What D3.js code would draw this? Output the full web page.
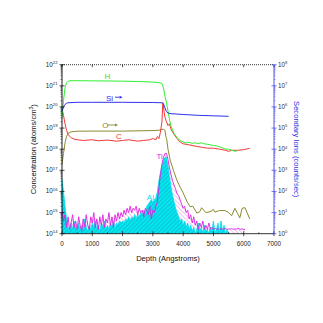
<!DOCTYPE html>
<html>
<head>
<meta charset="utf-8">
<script src="https://cdn.jsdelivr.net/npm/d3@7/dist/d3.min.js"></script>
<style>
  html, body { margin: 0; padding: 0; background: #fff; }
  svg { display: block; font-family: "Liberation Sans", Arial, sans-serif; }
</style>
</head>
<body>
<svg id="chart" width="323" height="323"></svg>
<script>
// ---- SIMS depth profile data ----
// Concentrations in atoms/cm^3 (left axis); Si in counts/sec (right axis)
const hDepth = [0, 50, 100, 150, 200, 300, 500, 1000, 1500, 2000, 2500, 3000, 3200, 3300, 3350, 3400, 3450, 3500, 3550, 3600, 3700, 3800, 3900, 4000, 4100, 4200, 4300, 4400, 4500, 4600, 4700, 4800, 4900, 5000, 5100, 5200, 5300, 5400, 5500, 5600, 5700, 5800];
const hConc  = [3.2e19, 2.0e20, 8.0e20, 1.4e21, 1.65e21, 1.75e21, 1.75e21, 1.72e21, 1.7e21, 1.66e21, 1.6e21, 1.5e21, 1.42e21, 1.3e21, 8.0e20, 3.2e20, 1.6e20, 6.3e19, 2.5e19, 1.2e19, 5.6e18, 3.5e18, 2.6e18, 2.2e18, 2.0e18, 2.1e18, 1.9e18, 2.0e18, 1.85e18, 2.0e18, 1.8e18, 1.7e18, 1.6e18, 1.5e18, 1.45e18, 1.3e18, 1.15e18, 1.0e18, 1.0e18, 9.0e17, 8.0e17, 8.5e17];

const cDepth = [0, 50, 100, 150, 200, 300, 400, 500, 700, 1000, 1200, 1500, 1800, 2000, 2200, 2500, 2700, 2900, 3000, 3100, 3150, 3200, 3250, 3300, 3330, 3360, 3400, 3450, 3500, 3550, 3600, 3700, 3800, 3900, 4000, 4200, 4400, 4600, 4800, 5000, 5200, 5400, 5500, 5600, 5800, 6000, 6200];
const cConc  = [8.0e19, 4.0e19, 1.6e19, 7.9e18, 5.0e18, 3.5e18, 3.0e18, 2.8e18, 2.6e18, 2.8e18, 2.5e18, 2.7e18, 2.4e18, 2.6e18, 2.8e18, 2.4e18, 2.6e18, 2.8e18, 3.2e18, 2.8e18, 4.0e18, 3.2e18, 6.3e18, 2.0e19, 1.6e20, 7.9e19, 3.2e19, 2.0e19, 1.3e19, 1.6e19, 8.9e18, 5.0e18, 3.2e18, 2.2e18, 1.8e18, 1.6e18, 1.4e18, 1.25e18, 1.12e18, 1.12e18, 1.0e18, 8.9e17, 7.9e17, 8.9e17, 8.9e17, 9.5e17, 1.1e18];

const oDepth = [0, 50, 100, 150, 200, 300, 500, 1000, 2000, 3000, 3200, 3350, 3400, 3430, 3460, 3500, 3570, 3680, 3790, 3900, 4000, 4120, 4230, 4320, 4450, 4550, 4610, 4750, 4890, 5000, 5050, 5200, 5380, 5500, 5600, 5710, 5800, 5870, 5950, 6040, 6200];
const oConc  = [2.0e17, 6.3e17, 2.0e18, 4.0e18, 5.6e18, 6.6e18, 7.1e18, 7.2e18, 7.2e18, 7.6e18, 7.9e18, 8.9e18, 7.9e18, 4.0e18, 2.8e18, 1.0e18, 3.1e17, 1.0e17, 3.5e16, 1.6e16, 8.5e15, 3.5e15, 1.9e15, 2.0e15, 9.5e14, 1.1e15, 1.7e15, 1.0e15, 1.1e15, 1.4e15, 1.05e15, 1.25e15, 1.25e15, 1.0e15, 7.1e14, 1.6e15, 8.9e14, 5.6e14, 1.6e15, 1.7e15, 5.0e14];

const siDepth = [0, 50, 100, 150, 200, 500, 1000, 2000, 3000, 3300, 3350, 3400, 3450, 3500, 3600, 3800, 4000, 4500, 5000, 5500];
const siCounts = [6.3e5, 1.0e6, 1.32e6, 1.5e6, 1.58e6, 1.66e6, 1.66e6, 1.66e6, 1.62e6, 1.58e6, 1.41e6, 8.9e5, 6.0e5, 5.2e5, 4.8e5, 4.6e5, 4.4e5, 4.0e5, 3.8e5, 3.6e5];

// Ti and Al are sampled every 50 Angstroms starting at the surface
const sampleStep = 50;
const tiConc = [
  1.3e15, 4.0e14, 7.9e14, 2.0e14, 6.3e14, 1.6e14, 3.2e14, 7.9e14, 2.0e14, 4.0e14,
  1.6e14, 6.3e14, 2.5e14, 1.3e14, 5.0e14, 2.0e14, 7.9e14, 2.5e14, 1.6e14, 6.3e14,
  3.2e14, 1.0e15, 2.0e14, 5.0e14, 1.6e14, 6.3e14, 2.5e14, 7.9e14, 2.0e14, 5.0e14,
  3.2e14, 1.0e15, 2.5e14, 6.3e14, 2.0e14, 7.9e14, 4.0e14, 1.0e15, 5.0e14, 1.0e15,
  6.3e14, 1.3e15, 7.9e14, 1.6e15, 1.0e15, 2.0e15, 1.0e15, 1.6e15, 1.3e15, 2.0e15,
  7.9e14, 1.6e15, 1.0e15, 1.3e15, 6.3e14, 1.6e15, 1.3e15, 7.9e14, 2.0e15, 5.0e14,
  1.3e15, 1.0e15, 2.0e15, 3.2e15, 1.6e16, 6.3e16, 2.0e17, 4.0e17, 6.3e17, 6.3e17,
  3.2e17, 1.3e17, 6.3e16, 3.2e16, 2.0e16, 1.3e16, 7.9e15, 6.3e15, 4.0e15, 2.5e15,
  1.6e15, 2.0e15, 1.0e15, 1.3e15, 5.0e14, 7.9e14, 3.2e14, 6.3e14, 2.5e14, 4.0e14,
  1.6e14, 3.2e14, 2.0e14, 4.0e14, 1.6e14, 2.5e14, 1.6e14, 3.2e14, 1.6e14, 2.0e14,
  1.6e14, 1.8e14, 1.6e14, 1.7e14, 1.6e14, 1.8e14, 1.6e14, 1.7e14, 1.8e14, 1.6e14,
  1.7e14, 1.6e14, 1.8e14, 1.6e14, 1.7e14, 1.6e14, 1.8e14, 1.7e14, 1.6e14, 1.7e14,
  1.6e14, 1.6e14
];
const alConc = [
  4.0e16, 1.0e16, 2.0e15, 5.0e14, 2.0e14, 1.3e14, 3.2e14, 1.6e14, 4.0e14, 2.0e14,
  1.6e14, 3.2e14, 1.3e14, 2.5e14, 1.6e14, 5.0e14, 2.0e14, 1.3e14, 2.5e14, 1.6e14,
  3.2e14, 2.0e14, 4.0e14, 1.6e14, 2.5e14, 1.3e14, 3.2e14, 2.0e14, 4.0e14, 1.6e14,
  2.5e14, 1.6e14, 3.2e14, 2.0e14, 4.0e14, 1.6e14, 3.2e14, 2.5e14, 4.0e14, 3.2e14,
  4.0e14, 3.2e14, 5.0e14, 4.0e14, 6.3e14, 4.0e14, 6.3e14, 5.0e14, 7.9e14, 5.0e14,
  7.9e14, 6.3e14, 1.0e15, 7.9e14, 1.3e15, 1.0e15, 2.0e15, 2.5e15, 3.2e15, 4.0e15,
  3.2e15, 4.0e15, 5.0e15, 1.0e16, 3.2e16, 7.9e16, 1.6e17, 3.2e17, 4.0e17, 4.0e17,
  1.6e17, 5.0e16, 1.6e16, 6.3e15, 3.2e15, 1.6e15, 1.0e15, 6.3e14, 4.0e14, 5.0e14,
  2.5e14, 4.0e14, 2.0e14, 3.2e14, 1.6e14, 2.5e14, 1.3e14, 2.0e14, 1.0e14, 1.6e14,
  3.2e14, 1.3e14, 2.0e14, 1.0e14, 2.5e14, 1.3e14, 1.6e14, 1.0e14, 2.0e14, 1.3e14,
  4.0e14, 1.0e14, 1.6e14, 3.2e14, 1.0e14, 4.0e14, 1.3e14, 2.5e14, 1.0e14, 1.6e14,
  1.0e14
];

const depthTicks = [0, 1000, 2000, 3000, 4000, 5000, 6000, 7000];
const concExponents = [14, 15, 16, 17, 18, 19, 20, 21, 22];
const ionExponents = [0, 1, 2, 3, 4, 5, 6, 7, 8];

// ---- layout ----
const svg = d3.select("#chart");
const plotLeft = 62, plotTop = 64.7, plotW = 212, plotH = 169;
const x = d3.scaleLinear().domain([0, 7000]).range([plotLeft, plotLeft + plotW]);
const y = d3.scaleLog().domain([1e14, 1e22]).range([plotTop + plotH, plotTop]);
const yR = d3.scaleLog().domain([1, 1e8]).range([plotTop + plotH, plotTop]);

const defs = svg.append("defs");
defs.append("clipPath").attr("id", "plotClip")
  .append("rect").attr("x", plotLeft).attr("y", plotTop).attr("width", plotW).attr("height", plotH);

// hatch fills for the Al and Ti areas
const alPat = defs.append("pattern").attr("id", "alHatch")
  .attr("patternUnits", "userSpaceOnUse").attr("width", 3).attr("height", 3)
  .attr("patternTransform", "rotate(45)");
alPat.append("rect").attr("width", 3).attr("height", 3).attr("fill", "#00e8f0");
alPat.append("line").attr("x1", 0).attr("y1", 0).attr("x2", 0).attr("y2", 3)
  .attr("stroke", "#2a8fb0").attr("stroke-width", 0.9);

const tiPat = defs.append("pattern").attr("id", "tiHatch")
  .attr("patternUnits", "userSpaceOnUse").attr("width", 3).attr("height", 3)
  .attr("patternTransform", "rotate(-45)");
tiPat.append("rect").attr("width", 3).attr("height", 3).attr("fill", "#ffffff");
tiPat.append("line").attr("x1", 0).attr("y1", 0).attr("x2", 0).attr("y2", 3)
  .attr("stroke", "#d070d0").attr("stroke-width", 0.8);

const plot = svg.append("g").attr("clip-path", "url(#plotClip)");

const tiData = tiConc.map((v, i) => ({ d: i * sampleStep, v }));
const alData = alConc.map((v, i) => ({ d: i * sampleStep, v }));

const area = d3.area().x(p => x(p.d)).y0(y(1e14)).y1(p => y(p.v));
const lineL = d3.line().x(p => x(p.d)).y(p => y(p.v));
const lineR = d3.line().x(p => x(p.d)).y(p => yR(p.v));

plot.append("path").datum(tiData).attr("d", area).attr("fill", "url(#tiHatch)");
plot.append("path").datum(alData).attr("d", area).attr("fill", "url(#alHatch)");
plot.append("path").datum(alData).attr("d", lineL).attr("fill", "none")
  .attr("stroke", "#00e0f0").attr("stroke-width", 0.8);
plot.append("path").datum(tiData).attr("d", lineL).attr("fill", "none")
  .attr("stroke", "#e020e0").attr("stroke-width", 0.9);

const zip = (ds, vs) => ds.map((d, i) => ({ d, v: vs[i] }));
plot.append("path").datum(zip(oDepth, oConc)).attr("d", lineL).attr("fill", "none")
  .attr("stroke", "#8a8a30").attr("stroke-width", 1);
plot.append("path").datum(zip(cDepth, cConc)).attr("d", lineL).attr("fill", "none")
  .attr("stroke", "#f03838").attr("stroke-width", 1);
plot.append("path").datum(zip(hDepth, hConc)).attr("d", lineL).attr("fill", "none")
  .attr("stroke", "#30f030").attr("stroke-width", 1);
plot.append("path").datum(zip(siDepth, siCounts)).attr("d", lineR).attr("fill", "none")
  .attr("stroke", "#3030f0").attr("stroke-width", 1);

// ---- axes ----
const tickFont = 6.3;
// bottom
const bottom = svg.append("g");
bottom.append("line").attr("x1", plotLeft).attr("x2", plotLeft + plotW)
  .attr("y1", plotTop + plotH).attr("y2", plotTop + plotH).attr("stroke", "#000").attr("stroke-width", 0.8);
depthTicks.forEach(t => {
  bottom.append("line").attr("x1", x(t)).attr("x2", x(t))
    .attr("y1", plotTop + plotH - 2.5).attr("y2", plotTop + plotH + 2.5).attr("stroke", "#000").attr("stroke-width", 0.7);
  bottom.append("text").attr("x", x(t)).attr("y", plotTop + plotH + 12)
    .attr("text-anchor", "middle").attr("font-size", tickFont).attr("fill", "#222").text(t);
});
d3.range(500, 7000, 1000).forEach(t => {
  bottom.append("line").attr("x1", x(t)).attr("x2", x(t))
    .attr("y1", plotTop + plotH - 1.5).attr("y2", plotTop + plotH).attr("stroke", "#000").attr("stroke-width", 0.6);
});
// top border, dotted with tick marks
svg.append("line").attr("x1", plotLeft).attr("x2", plotLeft + plotW).attr("y1", plotTop).attr("y2", plotTop)
  .attr("stroke", "#000").attr("stroke-width", 0.8).attr("stroke-dasharray", "1,1");
depthTicks.forEach(t => {
  svg.append("line").attr("x1", x(t)).attr("x2", x(t)).attr("y1", plotTop).attr("y2", plotTop + 2.5)
    .attr("stroke", "#000").attr("stroke-width", 0.7);
});

function logTicks(g, scale, exps, xPos, dir, color, labelColor) {
  g.append("line").attr("x1", xPos).attr("x2", xPos).attr("y1", plotTop).attr("y2", plotTop + plotH)
    .attr("stroke", color).attr("stroke-width", 0.9);
  exps.forEach((e, k) => {
    const v = Math.pow(10, e);
    g.append("line").attr("x1", xPos - 2.5).attr("x2", xPos + 2.5)
      .attr("y1", scale(v)).attr("y2", scale(v)).attr("stroke", color).attr("stroke-width", 0.7);
    if (k < exps.length - 1) {
      for (let m = 2; m <= 9; m++) {
        const yy = scale(m * v);
        g.append("line").attr("x1", xPos).attr("x2", xPos - dir * 1.5)
          .attr("y1", yy).attr("y2", yy).attr("stroke", color).attr("stroke-width", 0.5);
      }
    }
    const tx = g.append("text").attr("y", scale(v) + 2)
      .attr("font-size", tickFont).attr("fill", labelColor);
    if (dir > 0) tx.attr("x", xPos - 4.5).attr("text-anchor", "end");
    else tx.attr("x", xPos + 4).attr("text-anchor", "start");
    tx.append("tspan").text("10");
    tx.append("tspan").attr("dy", -2.6).attr("font-size", 4.2).text(e);
  });
}
logTicks(svg.append("g"), y, concExponents, plotLeft, 1, "#000", "#222");
logTicks(svg.append("g"), yR, ionExponents, plotLeft + plotW, -1, "#4040f0", "#333");

// axis titles
svg.append("text").attr("x", x(3500)).attr("y", 261)
  .attr("text-anchor", "middle").attr("font-size", 7.6).attr("fill", "#111").text("Depth (Angstroms)");
const yt = svg.append("text").attr("transform", `translate(36,${plotTop + plotH / 2}) rotate(-90)`)
  .attr("text-anchor", "middle").attr("font-size", 7.6).attr("fill", "#111");
yt.append("tspan").text("Concentration (atoms/cm");
yt.append("tspan").attr("dy", -2.6).attr("font-size", 5).text("3");
yt.append("tspan").attr("dy", 2.6).text(")");
svg.append("text").attr("transform", `translate(294,${plotTop + plotH / 2}) rotate(90)`)
  .attr("text-anchor", "middle").attr("font-size", 7.6).attr("fill", "#3030e0").text("Secondary Ions (counts/sec)");

// series labels
const lab = (t, d, v, c, sc) => svg.append("text").attr("x", x(d)).attr("y", (sc || y)(v))
  .attr("font-size", 8).attr("fill", c).text(t);
lab("H", 1400, 2.1e21, "#30e030");
lab("Si", 1450, 2.0e6, "#3030f0", yR);
lab("O", 1330, 1.0e19, "#8a8a30");
lab("C", 1780, 3.0e18, "#f03838");
lab("Ti", 3120, 3.5e17, "#e020e0");
lab("Al", 2800, 3.9e15, "#00e0f0");

// arrows after the Si and O labels
function arrow(d0, d1, v, c, sc) {
  const yy = (sc || y)(v);
  svg.append("line").attr("x1", x(d0)).attr("x2", x(d1)).attr("y1", yy).attr("y2", yy)
    .attr("stroke", c).attr("stroke-width", 0.9);
  svg.append("path").attr("d", `M${x(d1)},${yy - 1.5}L${x(d1) + 3},${yy}L${x(d1)},${yy + 1.5}Z`).attr("fill", c);
}
arrow(1750, 1900, 2.9e6, "#3030f0", yR);
arrow(1500, 1750, 1.4e19, "#8a8a30");
</script>
</body>
</html>
